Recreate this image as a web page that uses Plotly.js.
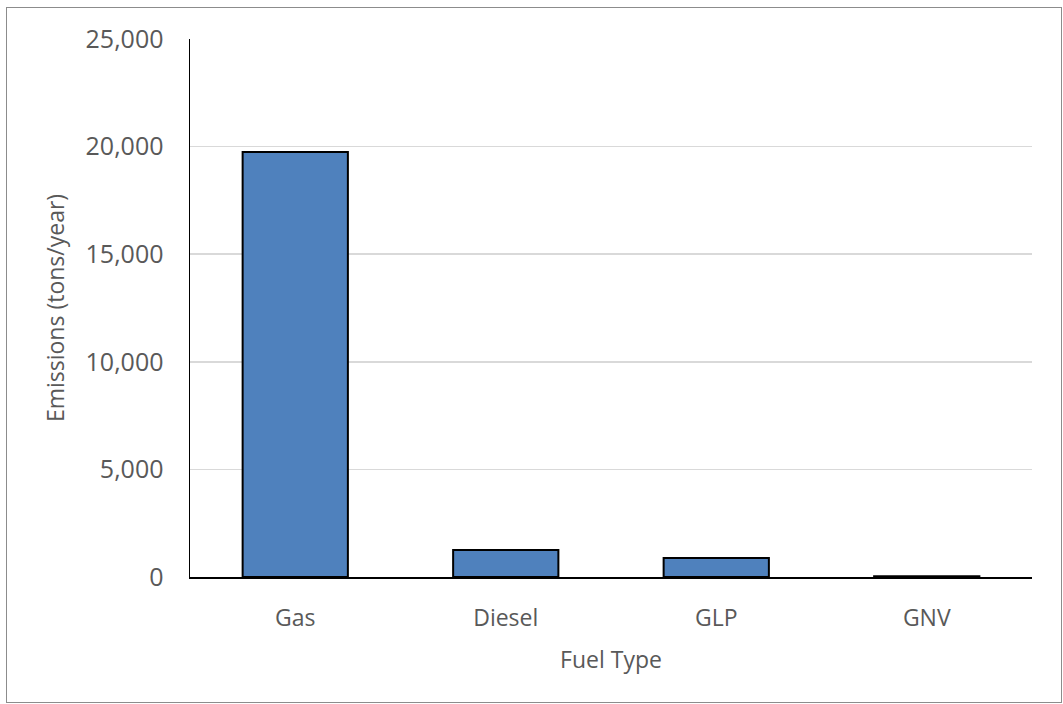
<!DOCTYPE html>
<html><head><meta charset="utf-8">
<script src="https://cdn.plot.ly/plotly-3.0.1.min.js"></script>
<style>
html,body{margin:0;padding:0;background:#fff;}
#wrap{position:relative;width:1063px;height:704px;}
#chart{width:1063px;height:704px;}
#frame{position:absolute;left:6px;top:7px;width:1054px;height:694px;border:1.5px solid #8c8c8c;pointer-events:none;}
</style></head>
<body>
<div id="wrap"><div id="chart"></div><div id="frame"></div></div>
<script>
const categories = ["Gas", "Diesel", "GLP", "GNV"];
const emissions = [19750, 1250, 880, 30];
const yTickValues = [0, 5000, 10000, 15000, 20000, 25000];
const yTickLabels = ["0", "5,000", "10,000", "15,000", "20,000", "25,000"];

const font = "Open Sans, Noto Sans, sans-serif";
Plotly.newPlot("chart", [{
  type: "bar",
  x: categories,
  y: emissions,
  marker: {color: "#4f81bd", line: {color: "#000", width: 2}},
  hoverinfo: "skip"
}], {
  width: 1063, height: 704,
  margin: {l: 190, r: 31, t: 39, b: 127},
  paper_bgcolor: "#fff", plot_bgcolor: "#fff",
  bargap: 0.5,
  showlegend: false,
  font: {family: font, color: "#595959", size: 22},
  xaxis: {
    showgrid: false, showline: true, linecolor: "#000", linewidth: 1.5,
    ticks: "", ticklabelstandoff: 20,
    tickfont: {size: 23, color: "#595959"},
    title: {text: "Fuel Type", font: {size: 23, color: "#595959"}, standoff: 20}
  },
  yaxis: {
    range: [0, 25000], tickvals: yTickValues, ticktext: yTickLabels,
    showgrid: true, gridcolor: "#d9d9d9", gridwidth: 1.5,
    showline: true, linecolor: "#000", linewidth: 1.5,
    zeroline: false, ticks: "", ticklabelstandoff: 20,
    tickfont: {size: 25, color: "#595959"},
    title: {text: "Emissions (tons/year)", font: {size: 23, color: "#595959"}, standoff: 14}
  }
}, {staticPlot: true});
</script>
</body></html>
